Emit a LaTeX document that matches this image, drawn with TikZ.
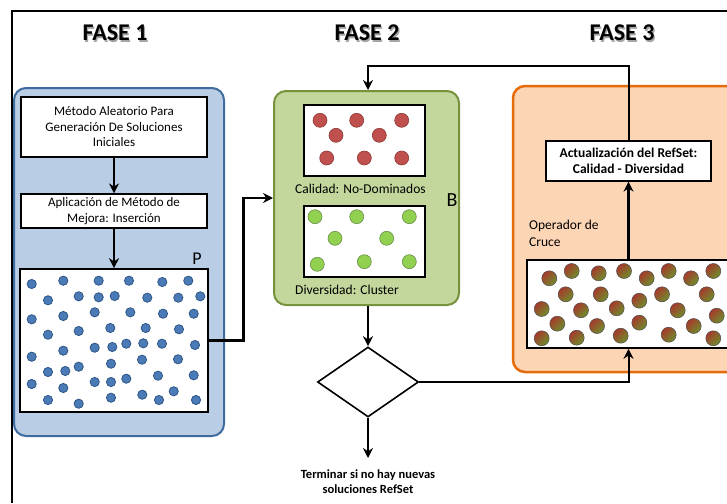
\documentclass[tikz,border=0pt]{standalone}
\usepackage{fontspec}
\setmainfont{Carlito}
\usetikzlibrary{shapes.geometric,arrows.meta,calc}

\definecolor{blueFill}{HTML}{B9CDE5}
\definecolor{blueEdge}{HTML}{3F6C9E}
\definecolor{blueDot}{HTML}{4A7BB7}
\definecolor{blueDotEdge}{HTML}{2F5686}
\definecolor{greenFill}{HTML}{C3D69B}
\definecolor{greenEdge}{HTML}{76923C}
\definecolor{redDot}{HTML}{C0504D}
\definecolor{redDotEdge}{HTML}{8C3836}
\definecolor{limeDot}{HTML}{92D050}
\definecolor{limeDotEdge}{HTML}{6A8F4A}
\definecolor{orangeFill}{HTML}{FCD5B5}
\definecolor{orangeEdge}{HTML}{E46C0A}
\definecolor{mixRed}{HTML}{A63A2C}
\definecolor{mixGreen}{HTML}{6E8E2C}

\tikzset{
  phase/.style={draw, line width=2pt, rounded corners=12pt},
  textbox/.style={draw=black, line width=1.2pt, fill=white, inner sep=0pt,
    align=center, font=\fontsize{13}{15.5}\selectfont},
  dotbox/.style={draw=black, line width=1.6pt, fill=white, inner sep=0pt},
  title/.style={font=\fontsize{24}{26}\selectfont\bfseries},
  label/.style={font=\fontsize{13.5}{17}\selectfont, anchor=west, inner sep=0pt},
  conn/.style={line width=2.4pt, -{Stealth[length=10pt,width=10pt]}},
  blueball/.style={fill=blueDot, draw=blueDotEdge, line width=0.8pt},
  redball/.style={fill=redDot, draw=redDotEdge, line width=0.6pt},
  limeball/.style={fill=limeDot, draw=limeDotEdge, line width=0.6pt},
  mixball/.style={top color=mixRed, bottom color=mixGreen, shading angle=45,
    draw=black!70, line width=0.5pt},
}

\begin{document}
\begin{tikzpicture}[x=1pt, y=-1pt]
\useasboundingbox (0,0) rectangle (727,503);
\clip (0,0) rectangle (727,503);
\fill[white] (0,0) rectangle (727,503);

% outer frame
\draw[line width=2pt] (12,503) -- (12,11) -- (727,11);

% phase titles with a soft shadow
\foreach \px/\t in {115/FASE 1, 367/FASE 2, 622/FASE 3}{
  \node[title, text=black!35] at (\px+1.3,34.3) {\t};
  \node[title] (t\px) at (\px,33) {\t};
}

% ---------- phase 1 ----------
\node[phase, draw=blueEdge, fill=blueFill, minimum width=210, minimum height=348,
      inner sep=0pt] (ph1) at (119,262) {};
\node[textbox, minimum width=186, minimum height=60] (m1) at (114,127)
  {Método Aleatorio Para\\Generación De Soluciones\\Iniciales};
\node[textbox, minimum width=186, minimum height=34] (m2) at (114,211)
  {Aplicación de Método de\\Mejora: Inserción};
\node[font=\fontsize{18}{18}\selectfont, inner sep=0pt] (plabel) at (197,259) {P};
\node[dotbox, minimum width=188, minimum height=143] (pdots) at (114,340.5) {};
\foreach \a/\b in {31.7/284, 63.3/280.7, 98.7/280.7, 129/280.7, 162.3/282, 188.3/280.7,
  48/300.3, 78.7/296.3, 98.7/297.3, 114.7/296, 147.3/297.7, 178.3/297.7, 200.3/296.3,
  31.7/319.3, 63.3/316, 94.7/312.3, 130.3/312.3, 163/313.7, 193.7/313.7,
  48/334.7, 78.7/331, 110.3/328, 145.7/328, 179/329.3,
  31.7/356.7, 63.3/350.7, 94.7/347.7, 112.3/347, 126.3/343.7, 143.3/343.3, 162/343.7, 195/345,
  48/372, 65.3/371, 78.7/366.7, 111/363.7, 142/359.7, 178/359.3,
  31.7/384, 63.3/388, 94.7/382, 111/382, 126.3/378.7, 158/375.7, 193.7/375.3,
  48/400, 78.7/403.7, 111/397.7, 142.3/394.7, 159/400, 173.7/391.3, 196/400}
  \draw[blueball] (\a,\b) circle (4.6);

% ---------- phase 2 ----------
\node[phase, draw=greenEdge, fill=greenFill, minimum width=185, minimum height=214,
      inner sep=0pt] (green) at (366.5,198) {};
\node[dotbox, minimum width=121, minimum height=71] (quality) at (364.5,140.5) {};
\foreach \a/\b in {320/120.3, 356.7/120.3, 401.7/120.3, 336/135.3, 379.3/135.3,
  326.7/158, 364.3/158, 401.7/158}
  \draw[redball] (\a,\b) circle (7);
\node[label] (qlabel) at (295,189) {Calidad: No-Dominados};
\node[font=\fontsize{20}{20}\selectfont, inner sep=0pt] (blabel) at (452,200) {B};
\node[dotbox, minimum width=121, minimum height=71] (diversity) at (364.5,241.5) {};
\foreach \a/\b in {315/216.7, 356.7/216.7, 409.3/216.7, 335/238.3, 386.7/238.3,
  317.3/264.3, 364.3/261.7, 409.3/261.7}
  \draw[limeball] (\a,\b) circle (7);
\node[label] (dlabel) at (295,290) {Diversidad: Cluster};

% decision
\node[diamond, draw=black, line width=1.6pt, fill=white, minimum width=101,
      minimum height=70, aspect=1.44, inner sep=0pt] (dia) at (368,382) {};
\coordinate (endpt) at (368,458);
\node[font=\fontsize{12.5}{15}\selectfont\bfseries, align=center, inner sep=0pt]
  (stop) at (368,482) {Terminar si no hay nuevas\\soluciones RefSet};

% ---------- phase 3 ----------
\node[phase, draw=orangeEdge, line width=2.5pt, fill=orangeFill, minimum width=232,
      minimum height=286, inner sep=0pt] (ph3) at (629,229) {};
\node[textbox, minimum width=165, minimum height=40,
      font=\fontsize{13.5}{16}\selectfont\bfseries] (act) at (628.5,161)
  {Actualización del RefSet:\\Calidad - Diversidad};
\node[label, align=left, anchor=north west] (olabel) at (529,220) {Operador de\\Cruce};
\node[dotbox, minimum width=213, minimum height=88] (odots) at (633.5,304) {};
\foreach \a/\b in {549.3/278.3, 571.7/271, 598.7/273.3, 624/271, 646.7/278.3,
  668.7/271, 691/278.3, 713.3/271,
  565.7/294.3, 600.7/294.3, 639.3/300.7, 662/294.3, 706.7/294.3,
  541.7/309, 581/310.3, 616.7/308.3, 677.7/310.3, 716.7/315.7,
  557.3/323.7, 597/326, 639.3/322.7, 693.7/326,
  541.7/338.3, 576.7/337.7, 620.7/335.7, 668.7/334.7, 713.3/338.3}
  \shade[mixball] (\a,\b) circle (7.5);

% ---------- connectors ----------
\coordinate (topline) at (0,66);
\draw[conn] (m1) -- (m2);
\draw[conn] (m2) -- (pdots);
\draw[conn, line width=2.8pt] (pdots.east) -- ($(pdots.east)+(35,0)$) |- (green.west);
\draw[conn] (green.south -| dia.north) -- (dia.north);
\draw[conn] (dia.south) -- (endpt);
\draw[conn, line width=2pt] (dia.east) -| (act.south |- odots.south);
\draw[conn] (act.south |- odots.north) -- (act.south);
\draw[conn, line width=2pt] (act.north) -- (act.north |- topline) -| (dia.north |- green.north);
\end{tikzpicture}
\end{document}
